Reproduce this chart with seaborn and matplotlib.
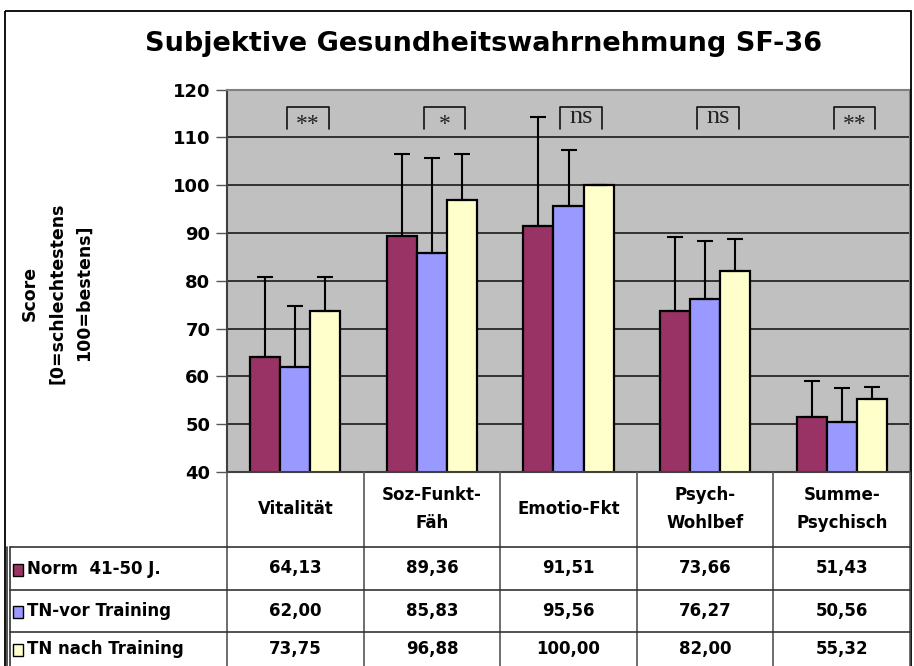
import numpy as np
import pandas as pd
import matplotlib
matplotlib.use('Agg')
import matplotlib.pyplot as plt
import seaborn as sns
from matplotlib.patches import Rectangle

categories = ['Vitalität', 'Soz-Funkt-\nFäh', 'Emotio-Fkt', 'Psych-\nWohlbef', 'Summe-\nPsychisch']
groups = ['Norm  41-50 J.', 'TN-vor Training', 'TN nach Training']
norm_vals = [64.13, 89.36, 91.51, 73.66, 51.43]
vor_vals = [62.00, 85.83, 95.56, 76.27, 50.56]
nach_vals = [73.75, 96.88, 100.00, 82.00, 55.32]
norm_err = [16.7, 17.2, 22.8, 15.5, 7.7]
vor_err = [12.8, 19.9, 11.8, 12.0, 7.1]
nach_err = [7.0, 9.7, 0.0, 6.7, 2.4]
signif = ['**', '*', 'ns', 'ns', '**']
yticks = [40, 50, 60, 70, 80, 90, 100, 110, 120]

colors = ['#993366', '#9999FF', '#FFFFCC']

sns.set_theme(style='white')
plt.rcParams['font.family'] = ['DejaVu Sans']
plt.rcParams['font.weight'] = 'bold'
plt.rcParams['text.color'] = 'black'
plt.rcParams['ytick.color'] = 'black'

vals = [norm_vals, vor_vals, nach_vals]
errs = [norm_err, vor_err, nach_err]
df = pd.DataFrame({
    'cat': np.tile(categories, 3),
    'group': np.repeat(groups, 5),
    'score': np.concatenate(vals),
})

W, H = 914, 666
fig = plt.figure(figsize=(W / 100, H / 100), dpi=100)
fig.patch.set_facecolor('white')

ax = fig.add_axes([227 / W, (H - 472) / H, (910 - 227) / W, (472 - 89.6) / H])
ax.set_facecolor('#C0C0C0')

sns.barplot(data=df, x='cat', y='score', hue='group', palette=colors, saturation=1,
            width=0.66, edgecolor='black', linewidth=1.6, ax=ax, legend=False, zorder=2)

# error bars (upper only)
for cont, e in zip(ax.containers, errs):
    xs = [b.get_x() + b.get_width() / 2 for b in cont]
    ys = [b.get_height() for b in cont]
    ax.errorbar(xs, ys, yerr=[np.zeros(len(e)), e], fmt='none', ecolor='black',
                elinewidth=1.5, capsize=5.5, capthick=1.5, zorder=3)

ax.set_xlim(-0.5, 4.5)
ax.set_ylim(40, 120)
ax.set_yticks(yticks)
ax.set_yticklabels([str(t) for t in yticks], fontsize=13, fontweight='bold', color='black')
ax.set_xticks([])
ax.set_xlabel('')
ax.set_ylabel('')
ax.yaxis.grid(True, color='#1a1a1a', lw=1.2)
ax.set_axisbelow(True)
ax.tick_params(axis='y', direction='out', length=8, width=1, color='#555555', pad=4, left=True)
for side in ['top', 'right']:
    ax.spines[side].set_color('#808080')
    ax.spines[side].set_linewidth(1.5)
ax.spines['left'].set_color('#404040')
ax.spines['left'].set_linewidth(1.5)
ax.spines['bottom'].set_color('#404040')
ax.spines['bottom'].set_linewidth(1.5)

# significance brackets
for i, s in enumerate(signif):
    x0, x1 = i - 0.06, i + 0.245
    ax.plot([x0, x0, x1, x1], [111.7, 116.4, 116.4, 111.7], color='#111111', lw=1.2, zorder=4)
    ty = 114.3 if s == 'ns' else 112.7
    ax.text((x0 + x1) / 2, ty, s, family='Liberation Serif', fontweight='normal',
            fontsize=19 if s == 'ns' else 17, ha='center', va='center', color='#222222', zorder=4)

# overlay in pixel coordinates for title, y label and data table
ov = fig.add_axes([0, 0, 1, 1])
ov.set_xlim(0, W)
ov.set_ylim(H, 0)
ov.axis('off')

ov.add_patch(Rectangle((5, 11), 906, 660, fill=False, ec='black', lw=1.3))
ov.text(484, 44, 'Subjektive Gesundheitswahrnehmung SF-36', ha='center', va='center',
        fontsize=19.5, fontweight='bold')
ov.text(57, 293, 'Score\n[0=schlechtestens\n100=bestens]', rotation=90, ha='center',
        va='center', fontsize=12.5, fontweight='bold', linespacing=1.65, multialignment='center')

# column edges taken from the bar axis
edges = [ax.transData.transform((i - 0.5, 0))[0] for i in range(len(categories) + 1)]
centers = [(edges[i] + edges[i + 1]) / 2 for i in range(len(categories))]
row_lines = [547, 590, 631.5, 666]
line_c = '#333333'

for x in edges:
    ov.plot([x, x], [472, 666], color='#555555', lw=1.2)
for y in row_lines[:-1]:
    ov.plot([10, edges[-1]], [y, y], color=line_c, lw=1.2)
ov.plot([7, 7], [547, 666], color=line_c, lw=1.2)
ov.plot([10, 10], [547, 666], color=line_c, lw=1.2)

for c, name in zip(centers, categories):
    ov.text(c, 509, name, ha='center', va='center', fontsize=12, fontweight='bold',
            linespacing=1.75, multialignment='center')

for r in range(3):
    yc = (row_lines[r] + row_lines[r + 1]) / 2
    ov.add_patch(Rectangle((13, yc - 5), 10, 12, fc=colors[r], ec='black', lw=1))
    ov.text(27, yc, groups[r], ha='left', va='center', fontsize=12, fontweight='bold')
    for c, v in zip(centers, vals[r]):
        ov.text(c, yc, f'{v:.2f}'.replace('.', ','), ha='center', va='center',
                fontsize=12, fontweight='bold')

fig.savefig('out.png', dpi=100)
